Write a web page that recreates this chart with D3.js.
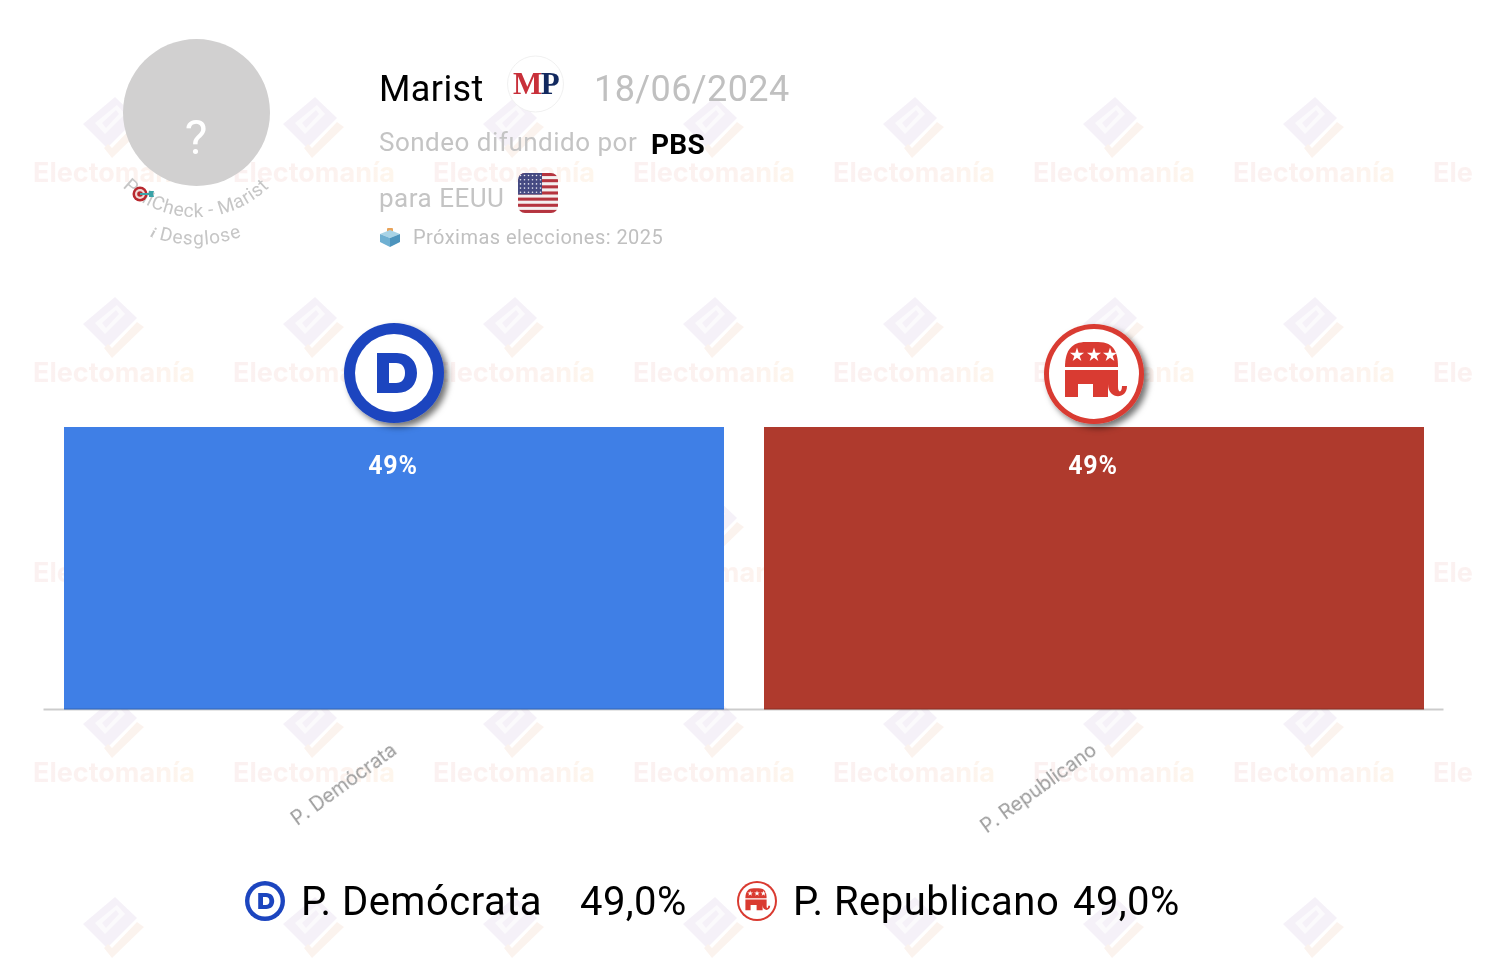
<!DOCTYPE html>
<html>
<head>
<meta charset="utf-8">
<script src="https://cdn.jsdelivr.net/npm/d3@7"></script>
<style>
html,body{margin:0;padding:0;background:#fff;}
svg{display:block;font-family:Roboto,sans-serif;}
</style>
</head>
<body>
<svg id="graph"></svg>
<script>
var categories=["P. Demócrata","P. Republicano"]
var values=[49,49]
var barColors=["#3f7fe6","#af3a2d"]
var legendValues=["49,0%","49,0%"]
var wmCols=[114,314,514,714,914,1114,1314,1514]
var wmRows=[172,372,572,772,972]

var screen2={width:1504,height:958}
var svg=d3.select("#graph").attr("width",screen2.width).attr("height",screen2.height)
var defs=svg.append("defs")

var shadow=defs.append("filter").attr("id","shadow")
  .attr("x","-20%").attr("y","-20%").attr("width","150%").attr("height","150%")
shadow.append("feDropShadow").attr("dx",4).attr("dy",4).attr("stdDeviation",3)
  .attr("flood-color","#000").attr("flood-opacity",0.55)

var wmGrad=defs.append("linearGradient").attr("id","wmText")
wmGrad.append("stop").attr("offset","0%").attr("stop-color","#fbeeee")
wmGrad.append("stop").attr("offset","60%").attr("stop-color","#fcefec")
wmGrad.append("stop").attr("offset","100%").attr("stop-color","#fef4e8")

defs.append("clipPath").attr("id","wmClip").append("rect")
  .attr("x",14).attr("y",0).attr("width",1459).attr("height",958)

// watermark tiles
var wm=svg.append("g").attr("clip-path","url(#wmClip)").attr("opacity",0.8)
wmCols.forEach(function(x){
  wmRows.forEach(function(y){
    var t=wm.append("g").attr("transform","translate("+x+","+y+")")
    // last row only shows the icon, its word falls below the page
    if(y<screen2.height-20){
      t.append("text").text("Electomanía")
        .attr("text-anchor","middle").attr("y",9.5)
        .attr("font-size",27).attr("font-weight",700)
        .attr("font-family","Inter,Roboto,sans-serif")
        .attr("fill","url(#wmText)")
    }
    var ic=t.append("g").attr("transform","translate(0,-45)")
    ic.append("polygon").attr("points","1,-30 23,-9 -7,21 -31,-3").attr("fill","#f3eef7")
    ic.append("polygon").attr("points","-19,-4 3,-22 11,-13 -9,7").attr("fill","#fbf9fc")
    ic.append("polygon").attr("points","-12,-4 2,-17 5,-13 -8,1").attr("fill","#f3eef7")
    ic.append("polygon").attr("points","23,-5 30,0 -2,31 -10,21 -6,17 -2,21").attr("fill","#fbf0ea")
  })
})

// bars
var xScale=d3.scaleBand().domain(categories).range([44,1444]).paddingInner(40/700).paddingOuter(20/700)
var yScale=d3.scaleLinear().domain([0,49]).range([709.5,427])
var rows=categories.map(function(c,i){return {name:c,value:values[i],color:barColors[i]}})

svg.append("g").selectAll("rect").data(rows).enter().append("rect")
  .attr("x",function(d){return xScale(d.name)})
  .attr("y",function(d){return yScale(d.value)})
  .attr("width",xScale.bandwidth())
  .attr("height",function(d){return yScale(0)-yScale(d.value)})
  .attr("fill",function(d){return d.color})

svg.append("g").selectAll("text").data(rows).enter().append("text")
  .text(function(d){return d.value+"%"})
  .attr("x",function(d){return xScale(d.name)+xScale.bandwidth()/2-1})
  .attr("y",474)
  .attr("text-anchor","middle")
  .attr("font-size",25).attr("font-weight",700).attr("letter-spacing",0.8)
  .attr("fill","#fff")

// axis
var xAxis=d3.axisBottom(xScale).tickSize(0).tickSizeOuter(0)
var axisG=svg.append("g").attr("transform","translate(-1,709)").call(xAxis)
axisG.select(".domain").attr("stroke","#000").attr("stroke-opacity",0.2).attr("stroke-width",2)
axisG.selectAll("text")
  .attr("font-family","Inter,Roboto,sans-serif")
  .attr("font-size",19.6).attr("fill","#9a9a9a")
  .attr("text-anchor","end")
  .attr("dy",0)
  .attr("y",0)
  .attr("transform","translate(5,44) rotate(-36)")

// party logos, r=50 at scale 1
function logoD(g){
  g.append("circle").attr("r",50).attr("fill","#1c45bf")
  g.append("circle").attr("r",39).attr("fill","#fff")
  g.append("path").attr("fill-rule","evenodd").attr("fill","#1c45bf")
    .attr("d","M-17,-20H3C16,-20 23,-11 23,0C23,11 16,20 3,20H-17ZM-5,-10V10H2C8,10 11,6 11,0C11,-6 8,-10 2,-10Z")
}
function logoR(g){
  g.append("circle").attr("r",50).attr("fill","#d93a30")
  g.append("circle").attr("r",45).attr("fill","#fff")
  g.append("path").attr("fill","#d93a30")
    .attr("d","M-29,-7C-29,-24 -22,-32 -8,-32H4C21,-32 24,-20 24,-7Z")
  g.append("path").attr("fill","#d93a30")
    .attr("d","M-29,-4H24V13C24,19 28,19 28,12H33C33,26 14,26 14,10V23H-1V10H-16V23H-29Z")
  var star=d3.symbol().type(d3.symbolStar).size(62)
  ;[-17,0,16].forEach(function(x){
    g.append("path").attr("d",star()).attr("fill","#fff").attr("transform","translate("+x+",-19)")
  })
}

var bigD=svg.append("g").attr("transform","translate(394,373)").attr("filter","url(#shadow)")
logoD(bigD)
var bigR=svg.append("g").attr("transform","translate(1094,374)").attr("filter","url(#shadow)")
logoR(bigR)

// legend
logoD(svg.append("g").attr("transform","translate(265,901) scale(0.4)"))
logoR(svg.append("g").attr("transform","translate(757,901) scale(0.4)"))
var legendX=[301,793]
var legendValX=[580,1073]
categories.forEach(function(c,i){
  svg.append("text").text(c).attr("x",legendX[i]).attr("y",914.5).attr("font-size",40).attr("letter-spacing",0.5).attr("fill","#000")
  svg.append("text").text(legendValues[i]).attr("x",legendValX[i]).attr("y",914.5).attr("font-size",40).attr("letter-spacing",0.4).attr("fill","#000")
})

// pollster avatar
svg.append("circle").attr("cx",196.5).attr("cy",112.5).attr("r",73.5).attr("fill","#d1d0d0")
svg.append("text").text("?").attr("x",196).attr("y",154).attr("text-anchor","middle")
  .attr("font-size",48).attr("fill","#fff")

defs.append("path").attr("id","arc1").attr("d","M105,164.5A105,105 0 0 0 287,164.5")
defs.append("path").attr("id","arc2").attr("d","M81,178.5A133,133 0 0 0 311,178.5")

svg.append("text").attr("font-size",19).attr("letter-spacing",0.55).attr("fill","#c6c6c6")
  .append("textPath").attr("href","#arc1").attr("startOffset","50%").attr("text-anchor","middle")
  .text("PollCheck - Marist")
var desglose=svg.append("text").attr("font-size",19).attr("letter-spacing",0.8).attr("fill","#c6c6c6")
  .append("textPath").attr("href","#arc2").attr("startOffset","50%").attr("text-anchor","middle")
desglose.append("tspan").text("i  ").attr("font-style","italic").attr("font-weight",700).attr("font-family","'Liberation Serif',serif").attr("font-size",15)
desglose.append("tspan").text("Desglose")

// target emoji
var dart=svg.append("g").attr("transform","translate(140,194)")
dart.append("circle").attr("r",7.5).attr("fill","#b8282e")
dart.append("circle").attr("r",5).attr("fill","#f1d9d5")
dart.append("circle").attr("r",2.8).attr("fill","#b8282e")
dart.append("line").attr("x1",0).attr("y1",0).attr("x2",13).attr("y2",0).attr("stroke","#3aa3a8").attr("stroke-width",2)
dart.append("polygon").attr("points","9,-3 14,-3 13,0 14,3 9,3").attr("fill","#3aa3a8")

// header text
var head=svg.append("g")
head.append("text").text("Marist").attr("x",379).attr("y",100.5).attr("font-size",36).attr("letter-spacing",0.4).attr("fill","#000")
head.append("text").text("18/06/2024").attr("x",594).attr("y",100.5).attr("font-size",36).attr("letter-spacing",0.4).attr("fill","#c0c0c0")
head.append("text").text("Sondeo difundido por").attr("x",379).attr("y",151).attr("font-size",26).attr("letter-spacing",0.5).attr("fill","#c4c4c4")
head.append("text").text("PBS").attr("x",651).attr("y",154).attr("font-size",28).attr("font-weight",700).attr("letter-spacing",0.3).attr("fill","#000")
head.append("text").text("para EEUU").attr("x",379).attr("y",206.5).attr("font-size",26).attr("letter-spacing",0.5).attr("fill","#c4c4c4")
head.append("text").text("Próximas elecciones: 2025").attr("x",413).attr("y",244).attr("font-size",20).attr("letter-spacing",0.45).attr("fill","#c0c0c0")

// MP logo
svg.append("circle").attr("cx",535.5).attr("cy",84).attr("r",28).attr("fill","#fff").attr("stroke","#f0f0f0")
var mp=svg.append("text").attr("x",535.5).attr("y",94).attr("text-anchor","middle")
  .attr("font-family","'Liberation Serif',serif").attr("font-size",31).attr("font-weight",700).attr("letter-spacing",-1.5)
mp.append("tspan").text("M").attr("fill","#c8303a")
mp.append("tspan").text("P").attr("fill","#12295f")

// flag
defs.append("clipPath").attr("id","flagClip").append("rect")
  .attr("x",518).attr("y",173).attr("width",40).attr("height",40).attr("rx",7)
var flag=svg.append("g").attr("clip-path","url(#flagClip)")
flag.append("rect").attr("x",518).attr("y",173).attr("width",40).attr("height",40).attr("fill","#f4f0f0")
d3.range(7).forEach(function(i){
  flag.append("rect").attr("x",518).attr("y",173+i*6.15).attr("width",40).attr("height",3.07).attr("fill","#b5343f")
})
flag.append("rect").attr("x",518).attr("y",173).attr("width",24).attr("height",21.5).attr("fill","#454a82")
d3.range(5).forEach(function(r){
  d3.range(6).forEach(function(c){
    flag.append("circle").attr("cx",520.5+c*4).attr("cy",175.5+r*4.2).attr("r",0.8).attr("fill","#e8e8f2")
  })
})

// ballot box
var box=svg.append("g").attr("transform","translate(390,238)")
box.append("rect").attr("x",-3).attr("y",-10).attr("width",6).attr("height",7).attr("rx",1).attr("fill","#e8a35a")
box.append("polygon").attr("points","-10,-4 0,-8 10,-4 0,0").attr("fill","#a8d3e6")
box.append("polygon").attr("points","-10,-4 0,0 0,9 -10,4").attr("fill","#6fb0d2")
box.append("polygon").attr("points","10,-4 0,0 0,9 10,4").attr("fill","#4d94bd")
</script>
</body>
</html>
